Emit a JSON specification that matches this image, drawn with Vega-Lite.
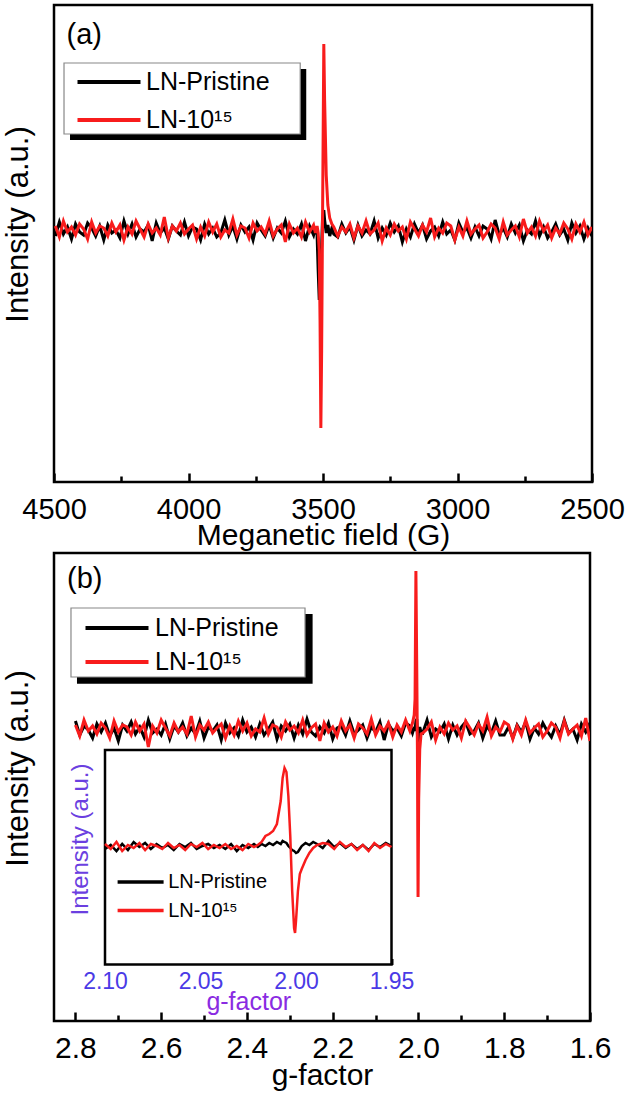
{
"$schema": "https://vega.github.io/schema/vega-lite/v6.json",
"padding": {"left": 0, "top": 3, "right": 0, "bottom": 0},
"background": "white",
"spacing": -1,
"config": {
  "font": "Liberation Sans",
  "view": {"stroke": "black", "strokeWidth": 2.5},
  "axis": {"grid": false, "domain": false, "tickColor": "black", "tickWidth": 2.5, "labelColor": "black", "titleColor": "black", "labelFont": "Liberation Sans", "titleFont": "Liberation Sans", "titleFontWeight": "normal", "zindex": 1},
  "legend": {"labelFont": "Liberation Sans", "labelColor": "black"}
},
"resolve": {"scale": {"color": "independent"}, "legend": {"color": "independent"}},
"datasets": {
"a": [
{"B":2500,"p":-0.6,"r":0.3},{"B":2515,"p":0.2,"r":-0.5},{"B":2530,"p":-0.9,"r":0.8},{"B":2545,"p":0.4,"r":-0.2},{"B":2560,"p":-0.3,"r":0.6},{"B":2575,"p":0.7,"r":-0.9},{"B":2590,"p":-1.0,"r":0.1},{"B":2605,"p":0.1,"r":0.7},{"B":2620,"p":-0.5,"r":-0.4},{"B":2635,"p":0.6,"r":0.2},
{"B":2650,"p":-0.2,"r":-0.8},{"B":2665,"p":-0.8,"r":0.5},{"B":2680,"p":0.3,"r":-0.1},{"B":2695,"p":-0.6,"r":0.9},{"B":2710,"p":0.9,"r":-0.6},{"B":2725,"p":-0.4,"r":0.3},{"B":2740,"p":0.0,"r":-0.3},{"B":2755,"p":-1.1,"r":1.1},{"B":2770,"p":0.5,"r":-0.7},{"B":2785,"p":-0.3,"r":0.4},
{"B":2800,"p":0.6,"r":0.0},{"B":2815,"p":-0.7,"r":-0.5},{"B":2830,"p":0.2,"r":0.8},{"B":2845,"p":-0.5,"r":-0.9},{"B":2860,"p":1.0,"r":0.2},{"B":2875,"p":-0.9,"r":0.6},{"B":2890,"p":0.1,"r":-0.2},{"B":2905,"p":0.4,"r":-0.8},{"B":2920,"p":-0.6,"r":0.5},{"B":2935,"p":0.3,"r":0.1},
{"B":2950,"p":-0.8,"r":-0.4},{"B":2965,"p":0.2,"r":0.9},{"B":2980,"p":-0.2,"r":-0.6},{"B":2995,"p":0.7,"r":0.3},{"B":3010,"p":-1.0,"r":-1.0},{"B":3025,"p":0.0,"r":0.4},{"B":3040,"p":-0.4,"r":0.7},{"B":3055,"p":0.8,"r":-0.3},{"B":3070,"p":-0.6,"r":0.2},{"B":3085,"p":0.3,"r":-0.7},
{"B":3100,"p":-0.1,"r":1.2},{"B":3115,"p":-0.9,"r":-0.2},{"B":3130,"p":0.5,"r":0.5},{"B":3145,"p":-0.3,"r":-0.6},{"B":3160,"p":0.6,"r":0.1},{"B":3175,"p":-0.7,"r":0.8},{"B":3190,"p":0.1,"r":-0.9},{"B":3205,"p":-1.2,"r":0.3},{"B":3220,"p":0.4,"r":-0.1},{"B":3235,"p":-0.2,"r":0.6},
{"B":3250,"p":0.7,"r":-0.5},{"B":3265,"p":-0.5,"r":0.2},{"B":3280,"p":0.2,"r":-1.1},{"B":3295,"p":-0.8,"r":0.7},{"B":3310,"p":0.9,"r":0.0},{"B":3325,"p":-0.4,"r":-0.4},{"B":3340,"p":0.0,"r":0.9},{"B":3355,"p":-0.6,"r":-0.3},{"B":3370,"p":0.5,"r":0.4},{"B":3385,"p":-1.0,"r":-0.8},
{"B":3400,"p":0.3,"r":0.6},{"B":3415,"p":-0.3,"r":-0.2},{"B":3430,"p":0.6,"r":0.3},{"B":3445,"p":-0.7,"r":-0.6},
{"B":3460,"p":-0.4,"r":0.3},{"B":3467,"p":0.2,"r":0.6},{"B":3475,"p":-0.6,"r":1.2},{"B":3482,"p":0.5,"r":2.5},{"B":3488,"p":-0.3,"r":5.5},{"B":3494,"p":1.0,"r":13.0},{"B":3497,"p":2.0,"r":18.6},{"B":3502,"p":1.0,"r":0.0},{"B":3505,"p":-1.5,"r":-12.0},{"B":3508,"p":-3.0,"r":-19.8},{"B":3511,"p":-5.0,"r":-9.0},{"B":3514,"p":-7.0,"r":-2.0},{"B":3518,"p":-4.0,"r":-0.3},{"B":3522,"p":-0.5,"r":0.4},{"B":3528,"p":0.3,"r":-0.3},{"B":3535,"p":-0.5,"r":0.5},
{"B":3550,"p":0.4,"r":-0.2},{"B":3565,"p":-1.1,"r":0.8},{"B":3580,"p":0.6,"r":-0.7},{"B":3595,"p":-0.4,"r":0.2},{"B":3610,"p":0.1,"r":-0.3},{"B":3625,"p":-0.7,"r":0.6},{"B":3640,"p":0.9,"r":-1.2},{"B":3655,"p":-0.3,"r":0.5},{"B":3670,"p":0.2,"r":0.1},{"B":3685,"p":-0.8,"r":-0.6},
{"B":3700,"p":0.5,"r":0.9},{"B":3715,"p":-0.6,"r":-0.4},{"B":3730,"p":0.0,"r":0.3},{"B":3745,"p":0.7,"r":-0.1},{"B":3760,"p":-1.0,"r":0.7},{"B":3775,"p":0.3,"r":-0.8},{"B":3790,"p":-0.2,"r":0.2},{"B":3805,"p":0.5,"r":0.4},{"B":3820,"p":-0.9,"r":-0.5},{"B":3835,"p":0.4,"r":1.1},
{"B":3850,"p":-0.5,"r":-0.3},{"B":3865,"p":1.0,"r":0.0},{"B":3880,"p":-0.3,"r":-0.7},{"B":3895,"p":-0.7,"r":0.6},{"B":3910,"p":0.2,"r":-0.2},{"B":3925,"p":-0.4,"r":0.8},{"B":3940,"p":0.6,"r":-0.6},{"B":3955,"p":-1.0,"r":0.3},{"B":3970,"p":0.1,"r":-0.9},{"B":3985,"p":0.3,"r":0.5},
{"B":4000,"p":-0.6,"r":0.1},{"B":4015,"p":0.8,"r":-0.4},{"B":4030,"p":-0.5,"r":0.7},{"B":4045,"p":-0.1,"r":-0.1},{"B":4060,"p":0.4,"r":0.4},{"B":4075,"p":-0.9,"r":-0.8},{"B":4090,"p":0.2,"r":1.3},{"B":4105,"p":-0.3,"r":-0.5},{"B":4120,"p":0.7,"r":0.2},{"B":4135,"p":-1.1,"r":-0.3},
{"B":4150,"p":0.5,"r":0.6},{"B":4165,"p":-0.2,"r":-0.7},{"B":4180,"p":0.1,"r":0.1},{"B":4195,"p":-0.7,"r":0.9},{"B":4210,"p":0.6,"r":-0.4},{"B":4225,"p":-0.4,"r":0.3},{"B":4240,"p":0.9,"r":-1.0},{"B":4255,"p":-0.8,"r":0.5},{"B":4270,"p":0.0,"r":-0.2},{"B":4285,"p":-0.3,"r":0.7},
{"B":4300,"p":0.5,"r":-0.6},{"B":4315,"p":-1.0,"r":0.2},{"B":4330,"p":0.4,"r":0.4},{"B":4345,"p":-0.6,"r":-0.3},{"B":4360,"p":0.2,"r":0.8},{"B":4375,"p":0.7,"r":-0.9},{"B":4390,"p":-0.5,"r":0.1},{"B":4405,"p":-0.2,"r":0.6},{"B":4420,"p":0.6,"r":-0.5},{"B":4435,"p":-0.9,"r":0.3},
{"B":4450,"p":0.3,"r":-0.2},{"B":4465,"p":-0.4,"r":0.9},{"B":4480,"p":0.8,"r":-0.7},{"B":4495,"p":-0.6,"r":0.4}
],
"b": [
{"g":2.80,"p":0.8,"r":0.4},{"g":2.79,"p":-0.6,"r":-0.7},{"g":2.78,"p":0.3,"r":0.9},{"g":2.77,"p":-0.1,"r":-0.2},{"g":2.76,"p":-0.9,"r":0.3},{"g":2.75,"p":0.5,"r":-0.5},{"g":2.74,"p":-0.3,"r":0.6},{"g":2.73,"p":0.6,"r":0.1},{"g":2.72,"p":-0.7,"r":-0.9},{"g":2.71,"p":0.1,"r":0.8},
{"g":2.70,"p":-1.2,"r":-0.3},{"g":2.69,"p":0.4,"r":0.4},{"g":2.68,"p":-0.2,"r":0.2},{"g":2.67,"p":0.7,"r":-0.6},{"g":2.66,"p":-0.5,"r":0.7},{"g":2.65,"p":0.2,"r":-0.2},{"g":2.64,"p":-0.8,"r":0.5},{"g":2.63,"p":0.9,"r":-1.8},{"g":2.62,"p":-0.4,"r":0.3},{"g":2.61,"p":0.0,"r":-0.4},
{"g":2.60,"p":-0.6,"r":0.9},{"g":2.59,"p":0.5,"r":0.1},{"g":2.58,"p":-1.0,"r":-0.7},{"g":2.57,"p":0.3,"r":0.6},{"g":2.56,"p":-0.3,"r":-0.3},{"g":2.55,"p":0.6,"r":0.2},{"g":2.54,"p":-0.7,"r":-0.5},{"g":2.53,"p":0.1,"r":1.3},{"g":2.52,"p":-0.5,"r":-0.8},{"g":2.51,"p":0.8,"r":0.4},
{"g":2.50,"p":-0.9,"r":-0.1},{"g":2.49,"p":0.2,"r":0.7},{"g":2.48,"p":-0.2,"r":-0.4},{"g":2.47,"p":0.4,"r":0.1},{"g":2.46,"p":-1.1,"r":0.5},{"g":2.45,"p":0.6,"r":-0.9},{"g":2.44,"p":-0.4,"r":0.3},{"g":2.43,"p":0.1,"r":-0.6},{"g":2.42,"p":-0.7,"r":0.8},{"g":2.41,"p":0.9,"r":-0.2},
{"g":2.40,"p":-0.3,"r":0.6},{"g":2.39,"p":0.2,"r":-0.7},{"g":2.38,"p":-0.8,"r":0.0},{"g":2.37,"p":0.5,"r":-0.3},{"g":2.36,"p":-0.6,"r":1.1},{"g":2.35,"p":0.0,"r":-0.5},{"g":2.34,"p":0.7,"r":0.4},{"g":2.33,"p":-1.0,"r":0.2},{"g":2.32,"p":0.3,"r":-0.8},{"g":2.31,"p":-0.2,"r":0.7},
{"g":2.30,"p":0.5,"r":-0.1},{"g":2.29,"p":-0.9,"r":0.3},{"g":2.28,"p":0.4,"r":-0.4},{"g":2.27,"p":-0.5,"r":0.9},{"g":2.26,"p":1.0,"r":-0.6},{"g":2.25,"p":-0.3,"r":0.1},{"g":2.24,"p":-0.7,"r":0.5},{"g":2.23,"p":0.2,"r":-1.2},{"g":2.22,"p":-0.4,"r":0.6},{"g":2.21,"p":0.6,"r":-0.3},
{"g":2.20,"p":-1.0,"r":0.2},{"g":2.19,"p":0.1,"r":-0.7},{"g":2.18,"p":0.3,"r":0.8},{"g":2.17,"p":-0.6,"r":-0.2},{"g":2.16,"p":0.8,"r":0.4},{"g":2.15,"p":-0.5,"r":-0.9},{"g":2.14,"p":-0.1,"r":0.5},{"g":2.13,"p":0.4,"r":0.1},{"g":2.12,"p":-0.9,"r":-0.5},{"g":2.11,"p":0.2,"r":1.0},
{"g":2.10,"p":-0.3,"r":-0.6},{"g":2.09,"p":0.7,"r":0.3},{"g":2.08,"p":-1.1,"r":-0.2},{"g":2.07,"p":0.5,"r":0.6},{"g":2.06,"p":-0.2,"r":-0.8},{"g":2.05,"p":0.1,"r":0.4},{"g":2.04,"p":-0.7,"r":-0.3},{"g":2.03,"p":0.6,"r":0.9},
{"g":2.020,"p":0.3,"r":-0.2},{"g":2.014,"p":-0.4,"r":0.6},{"g":2.010,"p":0.2,"r":1.4},{"g":2.008,"p":-0.2,"r":3.0},{"g":2.006,"p":0.8,"r":15.8},{"g":2.004,"p":1.0,"r":6.0},{"g":2.0025,"p":-0.5,"r":-2.0},{"g":2.001,"p":-1.5,"r":-16.8},{"g":1.9995,"p":-0.8,"r":-7.0},{"g":1.997,"p":0.2,"r":-2.0},{"g":1.994,"p":-0.3,"r":-0.5},
{"g":1.99,"p":-0.4,"r":-0.4},{"g":1.98,"p":0.9,"r":0.0},{"g":1.97,"p":-0.8,"r":0.7},{"g":1.96,"p":0.0,"r":-1.1},{"g":1.95,"p":-0.3,"r":0.2},{"g":1.94,"p":0.5,"r":-0.5},{"g":1.93,"p":-1.0,"r":0.6},{"g":1.92,"p":0.4,"r":-0.1},{"g":1.91,"p":-0.6,"r":0.3},{"g":1.90,"p":0.2,"r":-0.9},
{"g":1.89,"p":0.7,"r":0.8},{"g":1.88,"p":-0.5,"r":0.1},{"g":1.87,"p":-0.2,"r":-0.6},{"g":1.86,"p":0.6,"r":0.5},{"g":1.85,"p":-0.9,"r":-0.2},{"g":1.84,"p":0.3,"r":1.2},{"g":1.83,"p":-0.4,"r":-0.7},{"g":1.82,"p":0.8,"r":0.2},{"g":1.81,"p":-0.6,"r":-0.3},{"g":1.80,"p":-0.6,"r":0.7},
{"g":1.79,"p":0.2,"r":0.4},{"g":1.78,"p":-0.9,"r":-1.0},{"g":1.77,"p":0.4,"r":0.3},{"g":1.76,"p":-0.3,"r":-0.6},{"g":1.75,"p":0.7,"r":0.9},{"g":1.74,"p":-1.0,"r":-0.4},{"g":1.73,"p":0.1,"r":0.1},{"g":1.72,"p":-0.5,"r":0.5},{"g":1.71,"p":0.6,"r":-0.8},{"g":1.70,"p":-0.2,"r":-0.2},
{"g":1.69,"p":-0.8,"r":0.6},{"g":1.68,"p":0.3,"r":0.2},{"g":1.67,"p":-0.6,"r":-0.9},{"g":1.66,"p":0.9,"r":0.8},{"g":1.65,"p":-0.4,"r":-0.5},{"g":1.64,"p":0.0,"r":0.0},{"g":1.63,"p":-1.1,"r":0.4},{"g":1.62,"p":0.5,"r":-0.7},{"g":1.61,"p":-0.3,"r":1.1},{"g":1.60,"p":0.6,"r":-1.2}
],
"c": [
{"g":2.100,"p":-0.3,"r":0.2},{"g":2.097,"p":0.1,"r":-0.3},{"g":2.094,"p":-0.5,"r":0.4},{"g":2.091,"p":0.2,"r":-0.5},{"g":2.088,"p":-0.4,"r":0.1},{"g":2.085,"p":0.4,"r":-0.2},{"g":2.082,"p":-0.1,"r":0.3},{"g":2.079,"p":0.3,"r":-0.4},{"g":2.076,"p":-0.3,"r":0.2},{"g":2.073,"p":0.2,"r":0.0},
{"g":2.070,"p":-0.2,"r":-0.3},{"g":2.067,"p":0.1,"r":0.3},{"g":2.064,"p":-0.4,"r":-0.2},{"g":2.061,"p":0.2,"r":0.1},{"g":2.058,"p":-0.1,"r":-0.4},{"g":2.055,"p":0.3,"r":0.2},{"g":2.052,"p":-0.3,"r":-0.1},{"g":2.049,"p":0.0,"r":0.3},{"g":2.046,"p":0.2,"r":-0.3},{"g":2.043,"p":-0.2,"r":0.1},
{"g":2.040,"p":0.1,"r":-0.2},{"g":2.037,"p":-0.3,"r":0.2},{"g":2.034,"p":0.2,"r":-0.3},{"g":2.031,"p":-0.5,"r":0.0},{"g":2.028,"p":0.1,"r":-0.4},{"g":2.025,"p":-0.2,"r":0.2},{"g":2.022,"p":0.2,"r":-0.1},
{"g":2.020,"p":-0.1,"r":0.1},{"g":2.018,"p":0.2,"r":0.4},{"g":2.016,"p":0.0,"r":1.0},{"g":2.014,"p":0.3,"r":1.2},{"g":2.012,"p":0.1,"r":1.5},{"g":2.010,"p":0.4,"r":2.2},{"g":2.008,"p":0.2,"r":4.5},{"g":2.007,"p":0.5,"r":6.8},{"g":2.006,"p":0.4,"r":7.8},{"g":2.005,"p":0.3,"r":7.4},
{"g":2.004,"p":0.0,"r":5.0},{"g":2.003,"p":-0.2,"r":1.0},{"g":2.002,"p":-0.4,"r":-4.5},{"g":2.001,"p":-0.5,"r":-8.2},{"g":2.0005,"p":-0.6,"r":-8.7},{"g":2.000,"p":-0.7,"r":-7.5},{"g":1.999,"p":-0.6,"r":-4.5},{"g":1.998,"p":-0.3,"r":-2.8},{"g":1.997,"p":0.0,"r":-2.3},{"g":1.995,"p":0.3,"r":-1.4},
{"g":1.993,"p":0.1,"r":-0.7},{"g":1.991,"p":0.4,"r":-0.2},{"g":1.989,"p":0.2,"r":0.1},
{"g":1.986,"p":-0.2,"r":0.3},{"g":1.983,"p":0.5,"r":0.2},{"g":1.980,"p":-0.1,"r":-0.3},{"g":1.977,"p":0.3,"r":0.4},{"g":1.974,"p":-0.2,"r":-0.1},{"g":1.971,"p":0.2,"r":0.2},{"g":1.968,"p":-0.3,"r":-0.4},{"g":1.965,"p":0.1,"r":0.1},{"g":1.962,"p":-0.4,"r":-0.5},{"g":1.959,"p":0.2,"r":0.3},
{"g":1.956,"p":-0.1,"r":-0.2},{"g":1.953,"p":0.3,"r":0.2},{"g":1.950,"p":0.0,"r":-0.1}
]
},
"vconcat": [
{
  "width": 538, "height": 477,
  "layer": [
    {"data": {"values": [{}]}, "mark": {"type": "rect", "color": "black"},
     "encoding": {"x": {"datum": 4440.5, "type": "quantitative"}, "x2": {"datum": 3562.3}, "y": {"datum": 16.1, "type": "quantitative"}, "y2": {"datum": 9.0}}},
    {"data": {"values": [{}]}, "mark": {"type": "rect", "fill": "white", "stroke": "#888888", "strokeWidth": 1.2},
     "encoding": {"x": {"datum": 4462.8, "type": "quantitative"}, "x2": {"datum": 3584.7}, "y": {"datum": 16.7, "type": "quantitative"}, "y2": {"datum": 9.6}}},
    {"data": {"name": "a"}, "transform": [{"fold": ["p", "r"], "as": ["s", "v"]}],
     "mark": {"type": "line", "strokeWidth": 3, "clip": true},
     "encoding": {
       "x": {"field": "B", "type": "quantitative", "scale": {"domain": [4500, 2500], "nice": false, "zero": false},
         "axis": {"values": [2500, 2750, 3000, 3250, 3500, 3750, 4000, 4250, 4500], "format": "d",
           "labelExpr": "datum.value % 500 === 0 ? datum.label : ''",
           "tickSize": {"condition": {"test": "datum.value % 500 === 0", "value": -9}, "value": -6},
           "labelFontSize": 29, "labelPadding": 22, "labelFlush": false, "labelOverlap": false,
           "title": "Meganetic field (G)", "titleFontSize": 30, "titlePadding": -7}},
       "y": {"field": "v", "type": "quantitative", "scale": {"domain": [-25.2, 22.5], "nice": false, "zero": false},
         "axis": {"title": "Intensity (a.u.)", "labels": false, "ticks": false, "titleFontSize": 31, "titlePadding": 20, "titleY": 219}},
       "color": {"field": "s", "type": "nominal", "scale": {"domain": ["p", "r"], "range": ["#000000", "#f81c1c"]},
         "legend": {"orient": "none", "legendX": 42.5, "legendY": 64.5, "title": null, "padding": 0,
           "symbolType": "M-3,0H3", "symbolSize": 441, "symbolStrokeWidth": 4, "symbolOffset": 0, "labelOffset": 24.5,
           "labelFontSize": 25, "rowPadding": 12,
           "labelExpr": "datum.value == 'p' ? 'LN-Pristine' : 'LN-10\u00b9\u2075'"}}
     }},
    {"data": {"values": [{}]}, "mark": {"type": "text", "text": "(a)", "fontSize": 29, "align": "left", "baseline": "middle", "color": "black"},
     "encoding": {"x": {"datum": 4453.5, "type": "quantitative"}, "y": {"datum": 19.5, "type": "quantitative"}}}
  ]
},
{
  "width": 536, "height": 468,
  "resolve": {"scale": {"x": "independent", "y": "independent", "color": "independent"}, "axis": {"x": "independent", "y": "independent"}, "legend": {"color": "independent"}},
  "layer": [
    {"layer": [
      {"data": {"values": [{}]}, "mark": {"type": "rect", "color": "black"},
       "encoding": {"x": {"datum": 2.7964, "type": "quantitative"}, "x2": {"datum": 2.2469}, "y": {"datum": 11.5, "type": "quantitative"}, "y2": {"datum": 4.53}}},
      {"data": {"values": [{}]}, "mark": {"type": "rect", "fill": "white", "stroke": "#888888", "strokeWidth": 1.2},
       "encoding": {"x": {"datum": 2.8104, "type": "quantitative"}, "x2": {"datum": 2.2646}, "y": {"datum": 12.1, "type": "quantitative"}, "y2": {"datum": 5.2}}},
      {"data": {"name": "b"}, "transform": [{"fold": ["p", "r"], "as": ["s", "v"]}],
       "mark": {"type": "line", "strokeWidth": 3, "clip": true},
       "encoding": {
         "x": {"field": "g", "type": "quantitative", "scale": {"domain": [2.85, 1.6], "nice": false, "zero": false},
           "axis": {"orient": "bottom", "values": [1.6, 1.7, 1.8, 1.9, 2.0, 2.1, 2.2, 2.3, 2.4, 2.5, 2.6, 2.7, 2.8], "format": ".1f",
             "labelExpr": "abs(datum.value*5 - round(datum.value*5)) < 0.001 ? datum.label : ''",
             "tickSize": {"condition": {"test": "abs(datum.value*5 - round(datum.value*5)) < 0.001", "value": -9}, "value": -6},
             "labelFontSize": 30, "labelPadding": 21, "labelFlush": false, "labelOverlap": false,
             "title": "g-factor", "titleFontSize": 30, "titlePadding": -6}},
         "y": {"field": "v", "type": "quantitative", "scale": {"domain": [-29.2, 17.6], "nice": false, "zero": false},
           "axis": {"orient": "left", "title": "Intensity (a.u.)", "labels": false, "ticks": false, "titleFontSize": 31, "titlePadding": 20, "titleY": 215}},
         "color": {"field": "s", "type": "nominal", "scale": {"domain": ["p", "r"], "range": ["#000000", "#f81c1c"]},
           "legend": {"orient": "none", "legendX": 50.5, "legendY": 62.5, "title": null, "padding": 0,
             "symbolType": "M-3,0H3", "symbolSize": 441, "symbolStrokeWidth": 4, "symbolOffset": 0, "labelOffset": 25.5,
             "labelFontSize": 25, "rowPadding": 8,
             "labelExpr": "datum.value == 'p' ? 'LN-Pristine' : 'LN-10\u00b9\u2075'"}}
       }},
      {"data": {"values": [{}]}, "mark": {"type": "text", "text": "(b)", "fontSize": 29, "align": "left", "baseline": "middle", "color": "black"},
       "encoding": {"x": {"datum": 2.8197, "type": "quantitative"}, "y": {"datum": 15.0, "type": "quantitative"}}}
    ]},
    {"layer": [
      {"data": {"values": [{}]}, "mark": {"type": "rect", "fill": "white", "stroke": "black", "strokeWidth": 2.5},
       "encoding": {"x": {"datum": 2.1, "type": "quantitative"}, "x2": {"datum": 1.95}, "y": {"datum": -11.85, "type": "quantitative"}, "y2": {"datum": 9.6}}},
      {"data": {"name": "c"}, "transform": [{"fold": ["p", "r"], "as": ["s", "v"]}],
       "mark": {"type": "line", "strokeWidth": 2.5},
       "encoding": {
         "x": {"field": "g", "type": "quantitative", "scale": {"domain": [2.1, 1.95], "range": [51, 337.5], "nice": false, "zero": false},
           "axis": {"orient": "bottom", "offset": -56.5, "values": [1.95, 1.975, 2.0, 2.025, 2.05, 2.075, 2.1], "format": ".2f",
             "labelExpr": "abs(datum.value*20 - round(datum.value*20)) < 0.001 ? datum.label : ''",
             "tickSize": {"condition": {"test": "abs(datum.value*20 - round(datum.value*20)) < 0.001", "value": -6}, "value": -4},
             "tickWidth": 2,
             "labelFontSize": 23, "labelColor": "#4a3ae6", "labelPadding": 12, "labelFlush": false, "labelOverlap": false,
             "title": "g-factor", "titleColor": "#8a2be2", "titleFontSize": 25, "titlePadding": -6}},
         "y": {"field": "v", "type": "quantitative", "scale": {"domain": [-11.85, 9.6], "range": [411.5, 197], "nice": false, "zero": false},
           "axis": {"orient": "left", "offset": -51, "title": "Intensity (a.u.)", "labels": false, "ticks": false, "titleColor": "#6b3fe0", "titleFontSize": 24, "titlePadding": 13, "titleY": 286}},
         "color": {"field": "s", "type": "nominal", "scale": {"domain": ["p", "r"], "range": ["#000000", "#f81c1c"]},
           "legend": {"orient": "none", "legendX": 56.6, "legendY": 319, "title": null, "padding": 0,
             "symbolType": "M-3,0H3", "symbolSize": 235, "symbolStrokeWidth": 3.5, "symbolOffset": 20, "labelOffset": 17.6,
             "labelFontSize": 20, "rowPadding": 8.6,
             "labelExpr": "datum.value == 'p' ? 'LN-Pristine' : 'LN-10\u00b9\u2075'"}}
       }}
    ]}
  ]
}
]
}
